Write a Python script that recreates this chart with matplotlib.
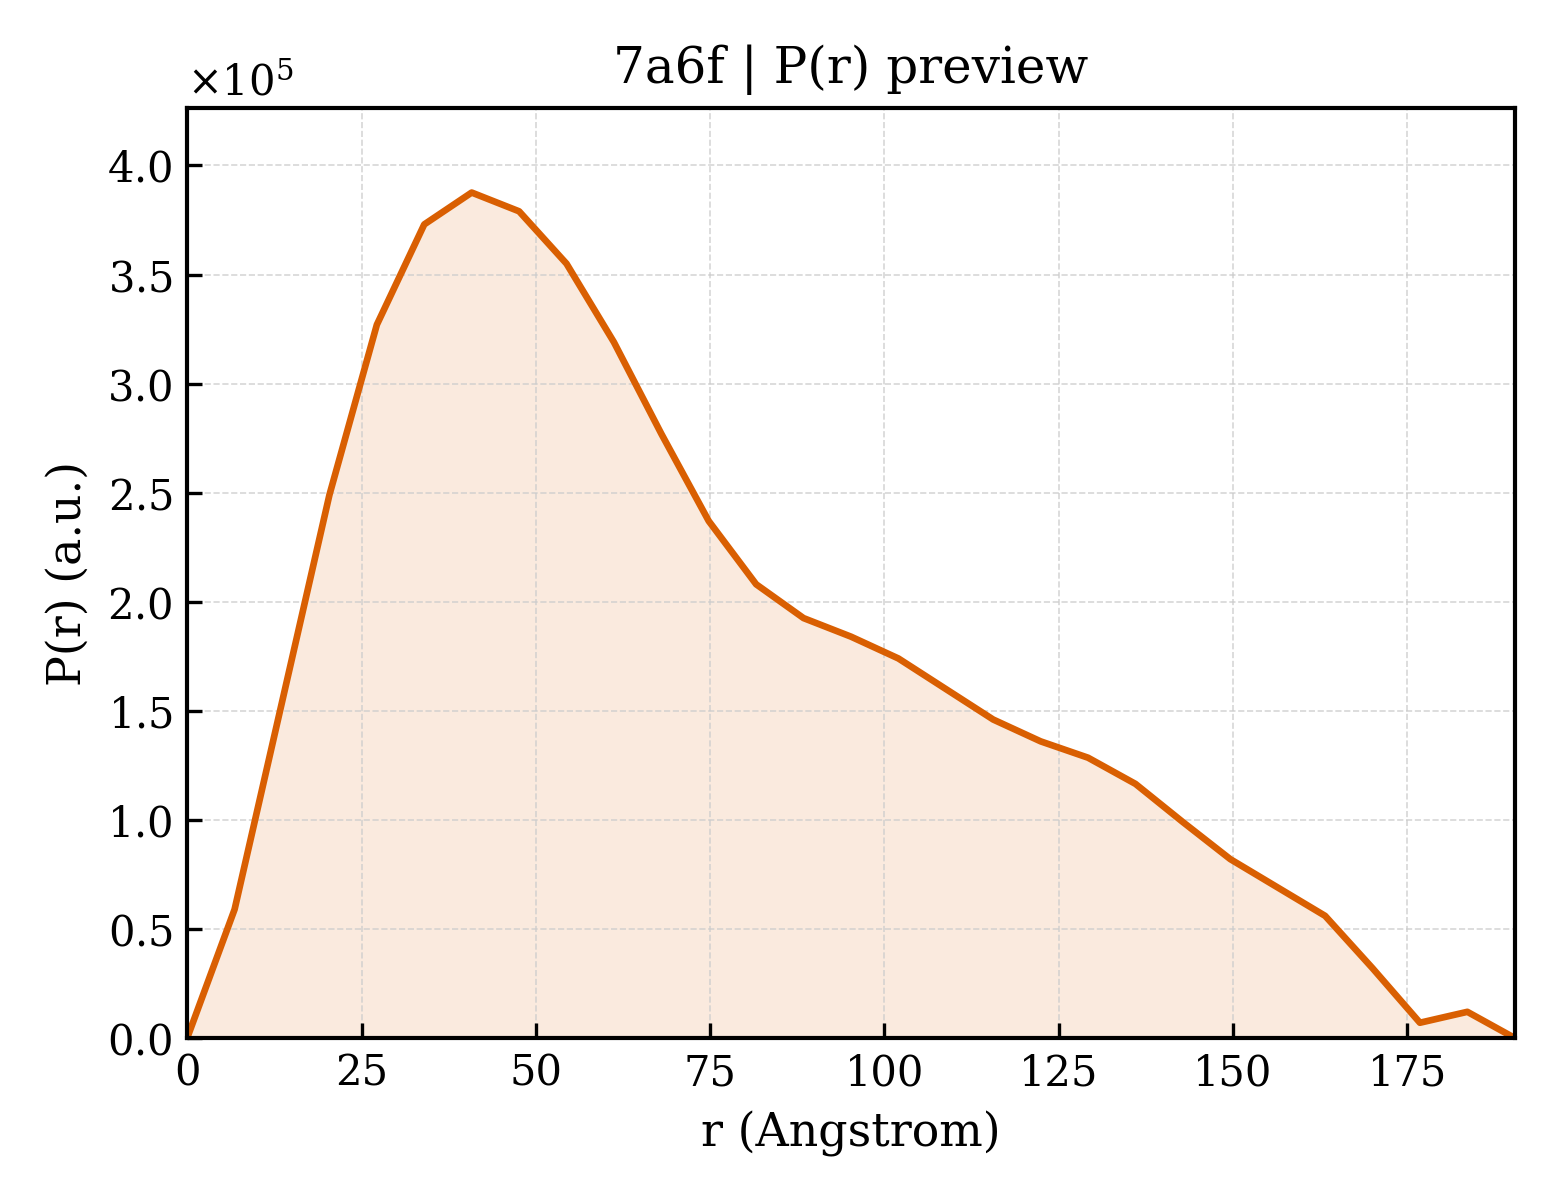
import matplotlib
matplotlib.use("Agg")
import matplotlib.pyplot as plt
import numpy as np

# P(r) samples read from the preview (r in Angstrom, P in a.u.)
r_vals = [0.0, 6.8, 13.6, 20.4, 27.2, 34.0, 40.8, 47.6, 54.4, 61.2,
          68.0, 74.8, 81.6, 88.4, 95.2, 102.0, 108.8, 115.6, 122.4,
          129.2, 136.0, 142.8, 149.6, 156.4, 163.2, 170.0, 176.8,
          183.6, 190.4]
p_vals = [0.0, 0.59e5, 1.54e5, 2.49e5, 3.27e5, 3.73e5, 3.876e5, 3.79e5,
          3.55e5, 3.19e5, 2.77e5, 2.37e5, 2.08e5, 1.925e5, 1.84e5, 1.74e5,
          1.60e5, 1.46e5, 1.36e5, 1.285e5, 1.165e5, 0.99e5, 0.82e5, 0.69e5,
          0.56e5, 0.32e5, 0.07e5, 0.12e5, 0.0]

COLOR = "#d95f02"

plt.rcParams["font.family"] = "DejaVu Serif"
plt.rcParams["mathtext.fontset"] = "dejavuserif"

r = np.array(r_vals)
p = np.array(p_vals)

fig, ax = plt.subplots(figsize=(5.2, 4.0), dpi=300)
ax.fill_between(r, p, 0, color=COLOR, alpha=0.13, linewidth=0)
ax.plot(r, p, color=COLOR, linewidth=1.6)

ax.set_xlim(0, r.max())
ax.set_ylim(0, 1.1 * p.max())
ax.set_xlabel("r (Angstrom)", fontsize=11)
ax.set_ylabel("P(r) (a.u.)", fontsize=11)
ax.set_title("7a6f | P(r) preview", fontsize=12)
ax.ticklabel_format(axis="y", style="sci", scilimits=(0, 0), useMathText=True)
ax.tick_params(direction="in", labelsize=10)
ax.grid(True, linestyle="--", linewidth=0.4, color="#cccccc", alpha=0.8)
for s in ax.spines.values():
    s.set_linewidth(1.0)

fig.subplots_adjust(left=0.12, right=0.971, bottom=0.135, top=0.91)
fig.savefig("out.png", dpi=300)
plt.close(fig)
